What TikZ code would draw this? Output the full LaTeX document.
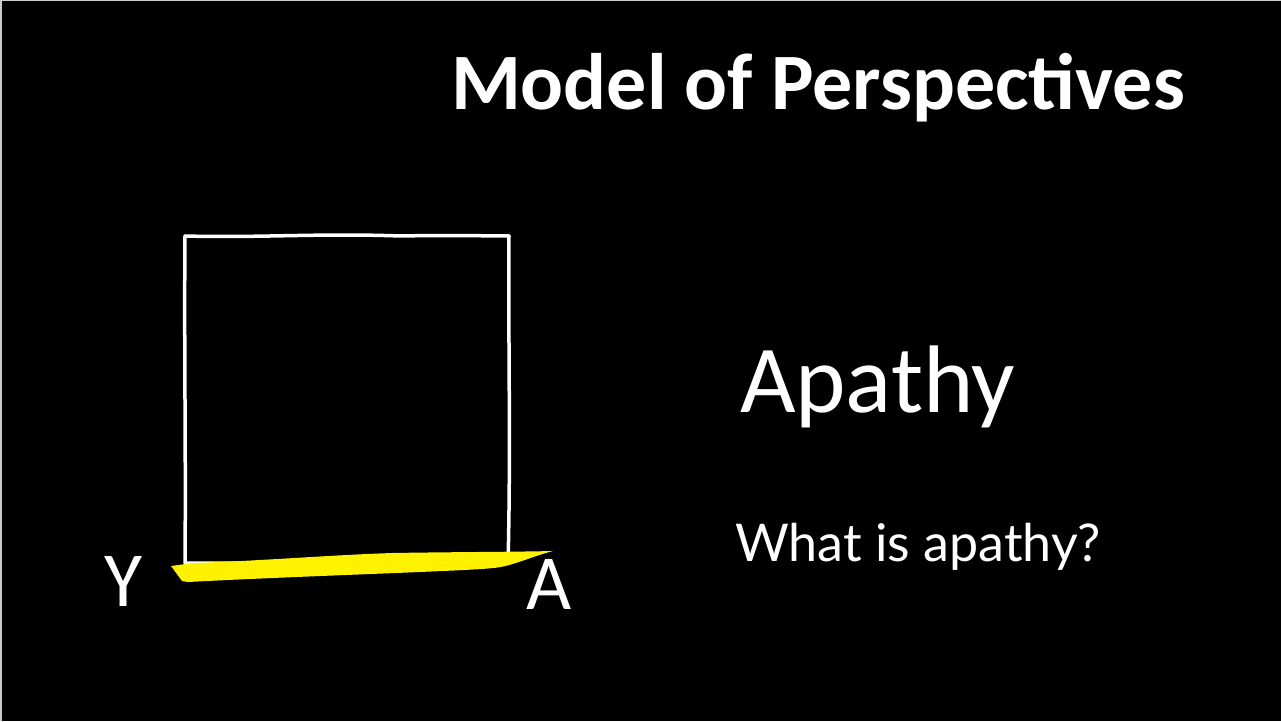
\documentclass[tikz,border=0pt]{standalone}
\usepackage{fontspec}
\setmainfont{Carlito}
\newfontfamily\qfont{Lato}
\begin{document}
\begin{tikzpicture}[x=1pt,y=1pt,
  txt/.style={text=white,inner sep=0pt,outer sep=0pt},
  hand/.style={draw=white,line width=3.5pt,line join=round,line cap=round}]
\useasboundingbox (0,0) rectangle (1281,721);
\fill[black] (0,0) rectangle (1281,721);
\draw[gray!40,line width=1.5pt] (0.75,0) -- (0.75,720.25) -- (1281,720.25);
% title
\node[txt,anchor=base west,font=\fontsize{80}{84}\selectfont\bfseries] (title) at (451,611) {Model of Perspectives};
% hand-drawn square
\draw[hand] (185,721-563) .. controls (186,721-450) and (184,721-350) .. (185,721-236)
  .. controls (260,721-238) and (320,721-233) .. (400,721-236)
  .. controls (450,721-235) and (490,721-236) .. (509,721-236)
  .. controls (508,721-330) and (511,721-450) .. (508,721-563) -- cycle;
% yellow highlighter
\fill[yellow] (171,721-566) -- (193,721-563) .. controls (260,721-561) and (330,721-555) .. (393,721-553)
  .. controls (450,721-552) and (510,721-552) .. (553,721-551)
  .. controls (530,721-557) and (510,721-567) .. (493,721-568)
  .. controls (470,721-571) and (300,721-576) .. (188,721-582)
  -- (182,721-581) -- cycle;
% labels
\node[txt,anchor=base west,font=\fontsize{78}{80}\selectfont] (Y) at (104,721-606) {Y};
\node[txt,anchor=base west,font=\fontsize{78}{80}\selectfont] (A) at (526,721-609) {A};
\node[txt,anchor=base west,font=\fontsize{96}{100}\selectfont] (apathy) at (740,721-412) {Apathy};
\node[txt,anchor=base west,font=\qfont\fontsize{52}{56}\selectfont] (q) at (735,721-561) {What is apathy?};
\end{tikzpicture}
\end{document}
